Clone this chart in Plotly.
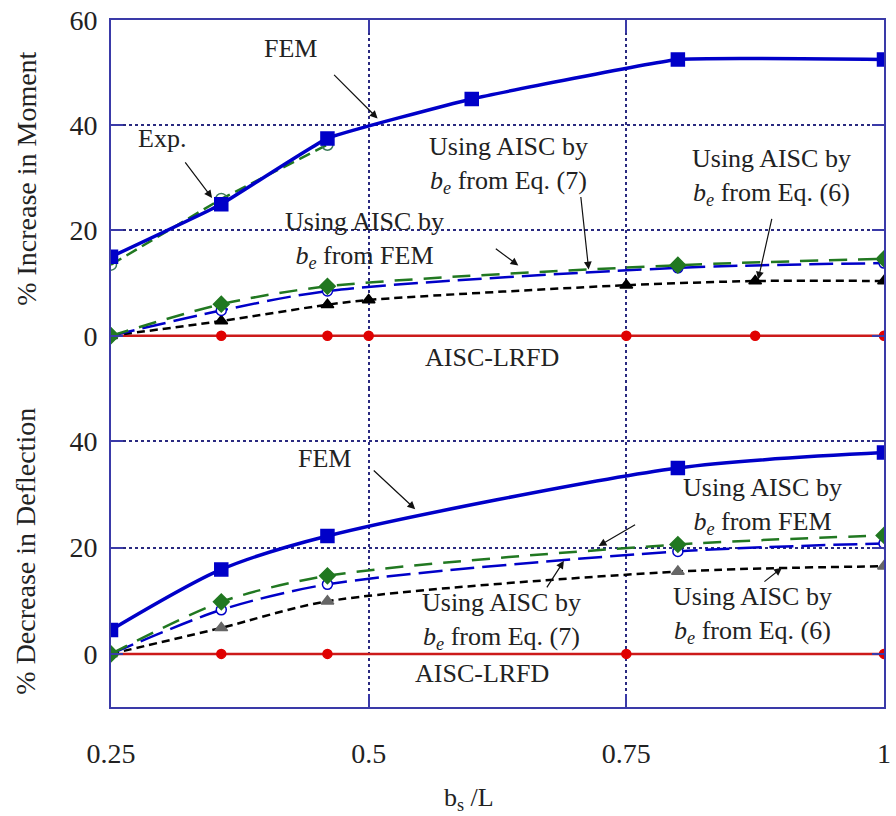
import plotly.graph_objects as go

# ---------------- data ----------------
# Top panel: % Increase in Moment
fem_m_x = [0.25, 0.357, 0.46, 0.6, 0.8, 1.0]
fem_m_y = [15.0, 25.0, 37.5, 45.0, 52.5, 52.5]
exp_m_x = [0.25, 0.357, 0.46]
exp_m_y = [13.5, 26.0, 36.3]
febe_m_x = [0.25, 0.357, 0.46, 0.8, 1.0]
febe_m_y = [0.0, 6.0, 9.4, 13.4, 14.6]
eq7_m_x = [0.25, 0.357, 0.46, 0.8, 1.0]
eq7_m_y = [0.0, 4.8, 8.5, 12.9, 13.8]
eq6_m_x = [0.25, 0.357, 0.46, 0.5, 0.75, 0.875, 1.0]
eq6_m_y = [0.0, 2.8, 5.9, 6.8, 9.6, 10.4, 10.4]
lrfd_m_x = [0.25, 0.357, 0.46, 0.5, 0.75, 0.875, 1.0]
lrfd_m_y = [0, 0, 0, 0, 0, 0, 0]

# Bottom panel: % Decrease in Deflection
fem_d_x = [0.25, 0.357, 0.46, 0.8, 1.0]
fem_d_y = [4.5, 15.9, 22.2, 35.0, 37.9]
febe_d_x = [0.25, 0.357, 0.46, 0.8, 1.0]
febe_d_y = [0.0, 9.8, 14.7, 20.6, 22.3]
eq7_d_x = [0.25, 0.357, 0.46, 0.8, 1.0]
eq7_d_y = [0.0, 8.3, 13.1, 19.3, 20.8]
eq6_d_x = [0.25, 0.357, 0.46, 0.8, 1.0]
eq6_d_y = [0.0, 4.9, 9.9, 15.5, 16.5]
lrfd_d_x = [0.25, 0.357, 0.46, 0.75, 1.0]
lrfd_d_y = [0, 0, 0, 0, 0]

x_ticks = [0.25, 0.5, 0.75, 1.0]
x_ticktext = ["0.25", "0.5", "0.75", "1"]
ym_ticks = [0, 20, 40, 60]
yd_ticks = [0, 20, 40]

# ---------------- style ----------------
BLUE = "#0000C8"
GREEN = "#217821"
BLACK = "#000000"
RED = "#CC1A1A"
AX = "#3A3AA8"
GRID = "#2A2A80"
FONT = "Liberation Serif, Times New Roman, serif"

W, H = 896, 816
L, R, T, B = 111, 891, 16, 707


def P(xp, yp):
    return (xp - L) / (R - L), (B - yp) / (B - T)


fig = go.Figure()


def add(x, y, color, dash, width, symbol, msize, mfill, mline, axis, shape="spline", smooth=0.8):
    fig.add_trace(go.Scatter(
        x=x, y=y, mode="lines+markers",
        line=dict(color=color, dash=dash, width=width, shape=shape, smoothing=smooth),
        marker=dict(symbol=symbol, size=msize, color=mfill, line=dict(color=mline, width=1.5)),
        xaxis="x" if axis == 1 else "x2", yaxis="y" if axis == 1 else "y2",
        showlegend=False))


# top
add(lrfd_m_x, lrfd_m_y, RED, "solid", 2.5, "circle", 9, "#E00000", "#E00000", 1, "linear")
add(eq6_m_x, eq6_m_y, BLACK, "8px,5px", 2.5, "triangle-up", 11, BLACK, BLACK, 1)
add(eq7_m_x, eq7_m_y, BLUE, "24px,8px", 2.5, "circle", 10, "white", BLUE, 1)
add(febe_m_x, febe_m_y, GREEN, "18px,11px", 2.5, "diamond", 12, GREEN, GREEN, 1)
add(exp_m_x, exp_m_y, GREEN, "12px,6px", 2.5, "circle", 11, "rgba(0,0,0,0)", "#3C7A5A", 1, "linear")
add(fem_m_x, fem_m_y, BLUE, "solid", 3.5, "square", 13, BLUE, BLUE, 1, "spline", 0.3)

# bottom
add(lrfd_d_x, lrfd_d_y, RED, "solid", 2.5, "circle", 9, "#E00000", "#E00000", 2, "linear")
add(eq6_d_x, eq6_d_y, BLACK, "8px,5px", 2.5, "triangle-up", 11, "#666666", "#666666", 2)
add(eq7_d_x, eq7_d_y, BLUE, "24px,8px", 2.5, "circle", 10, "white", BLUE, 2)
add(febe_d_x, febe_d_y, GREEN, "18px,11px", 2.5, "diamond", 12, GREEN, GREEN, 2)
add(fem_d_x, fem_d_y, BLUE, "solid", 3.5, "square", 13, BLUE, BLUE, 2)

split = (B - 386.5) / (B - T)

TICKFONT = dict(family=FONT, size=28, color="#222")
common_x = dict(range=[0.25, 1.0], tickvals=x_ticks, ticktext=x_ticktext,
                showgrid=True, gridcolor=GRID, griddash="dot", gridwidth=1.5,
                showline=True, linecolor=AX, linewidth=2, mirror=False,
                ticks="inside", ticklen=13, tickcolor=AX, tickwidth=2, zeroline=False,
                tickfont=TICKFONT)
common_y = dict(showgrid=True, gridcolor=GRID, griddash="dot", gridwidth=1.5,
                showline=True, linecolor=AX, linewidth=2, mirror="ticks",
                ticks="inside", ticklen=12, tickcolor=AX, tickwidth=2, zeroline=False,
                tickfont=TICKFONT, ticklabelstandoff=6)

fig.update_layout(
    width=W, height=H,
    margin=dict(l=L, r=W - R, t=T, b=H - B),
    paper_bgcolor="white", plot_bgcolor="white",
    font=dict(family=FONT, size=26, color="#222"),
    xaxis=dict(common_x, side="top", showticklabels=False, anchor="y"),
    yaxis=dict(common_y, domain=[split, 1.0], range=[-10, 60], tickvals=ym_ticks, anchor="x"),
    xaxis2=dict(common_x, side="bottom", anchor="y2", matches="x", ticklabelstandoff=20),
    yaxis2=dict(common_y, domain=[0.0, split], range=[-10, 50], tickvals=yd_ticks, anchor="x2"),
)

ann = []


def text(s, xp, yp, size=26, angle=0):
    x, y = P(xp, yp)
    ann.append(dict(text=s, x=x, y=y, xref="paper", yref="paper", showarrow=False,
                    xanchor="center", yanchor="middle", align="center", textangle=angle,
                    font=dict(family=FONT, size=size, color="#222")))


def arrow(tx, ty, hx, hy):
    x, y = P(hx, hy)
    ann.append(dict(text="", x=x, y=y, xref="paper", yref="paper", showarrow=True,
                    ax=tx - hx, ay=ty - hy, arrowhead=2, arrowsize=1.3, arrowwidth=1.2,
                    arrowcolor="#111", standoff=0, startstandoff=0))


be = "<i>b<sub>e</sub></i>"
# top panel annotations
text("FEM", 292, 45)
arrow(335, 70, 380, 115)
text("Exp.", 162, 135)
arrow(185, 158, 213, 195)
text("Using AISC by<br>" + be + " from Eq. (7)", 512, 162)
arrow(585, 193, 593, 267)
text("Using AISC by<br>" + be + " from FEM", 367, 237)
arrow(498, 245, 522, 263)
text("Using AISC by<br>" + be + " from Eq. (6)", 777, 174)
arrow(778, 215, 764, 277)
text("AISC-LRFD", 495, 355)

# bottom panel annotations
text("FEM", 326, 457)
arrow(375, 468, 418, 508)
text("Using AISC by<br>" + be + " from FEM", 768, 505)
arrow(641, 523, 603, 545)
text("Using AISC by<br>" + be + " from Eq. (7)", 505, 620)
arrow(550, 588, 568, 560)
text("Using AISC by<br>" + be + " from Eq. (6)", 758, 614)
arrow(769, 582, 788, 567)
text("AISC-LRFD", 485, 673)

# axis titles
text("% Increase in Moment", 25, 176, size=28, angle=-90)
text("% Decrease in Deflection", 25, 550, size=28, angle=-90)
text("b<sub>s</sub> /L", 472, 800, size=26)

fig.update_layout(annotations=ann)
fig.write_html("out.html")
